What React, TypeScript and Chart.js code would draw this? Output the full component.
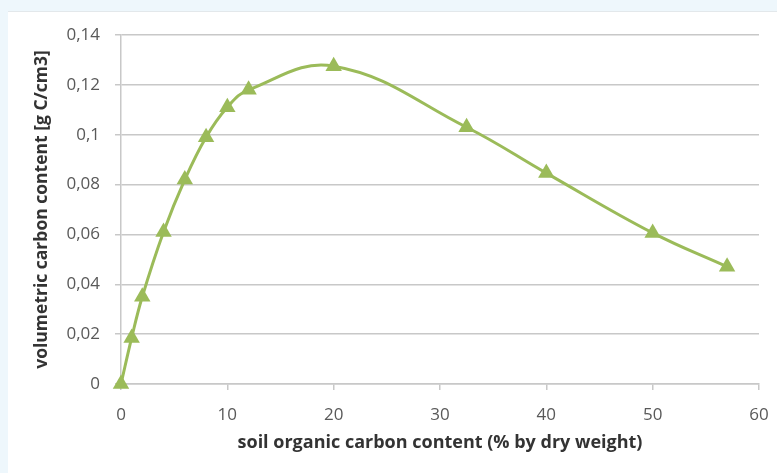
import React, { useEffect, useRef } from 'react';
import { Chart, registerables } from 'chart.js';

Chart.register(...registerables);

const xValues = [0, 1, 2, 4, 6, 8, 10, 12, 20, 32.5, 40, 50, 57];
const yValues = [0, 0.0185, 0.035, 0.061, 0.082, 0.099, 0.111, 0.118, 0.1275, 0.103, 0.0846, 0.0606, 0.047];
const xTickLabels = ['0', '10', '20', '30', '40', '50', '60'];
const yTickLabels = ['0', '0,02', '0,04', '0,06', '0,08', '0,1', '0,12', '0,14'];
const xTitle = 'soil organic carbon content (% by dry weight)';
const yTitle = 'volumetric carbon content [g C/cm3]';

const FONT = "'Open Sans', sans-serif";

const bgPlugin = {
  id: 'bgPanel',
  beforeDraw(chart: any) {
    const { ctx, width, height } = chart;
    ctx.save();
    ctx.fillStyle = '#eef7fc';
    ctx.fillRect(0, 0, width, height);
    ctx.fillStyle = '#e3e8eb';
    ctx.fillRect(8, 11, width - 8, 1);
    ctx.fillStyle = '#ffffff';
    ctx.fillRect(8, 12, width - 8, height - 12);
    ctx.restore();
  },
};

export default function App() {
  const ref = useRef<HTMLCanvasElement>(null);

  useEffect(() => {
    if (!ref.current) return;
    const chart = new Chart(ref.current, {
      type: 'line',
      data: {
        datasets: [
          {
            data: xValues.map((x, i) => ({ x, y: yValues[i] })),
            borderColor: '#9bbb59',
            backgroundColor: '#9bbb59',
            borderWidth: 3,
            pointStyle: 'triangle',
            pointRadius: 9.5,
            pointBorderWidth: 0,
            tension: 0.4,
            fill: false,
            clip: false,
          },
        ],
      },
      options: {
        animation: false,
        responsive: false,
        layout: { padding: { left: 0, right: 18, top: 35, bottom: 0 } },
        plugins: { legend: { display: false }, tooltip: { enabled: false } },
        scales: {
          x: {
            type: 'linear',
            min: 0,
            max: 60,
            afterFit(scale: any) {
              scale.height = 89;
              scale.paddingLeft = 0;
              scale.paddingRight = 0;
            },
            ticks: {
              stepSize: 10,
              padding: 15,
              color: '#595959',
              font: { family: FONT, size: 17 },
              callback: (_v: any, i: number) => xTickLabels[i],
            },
            grid: {
              drawOnChartArea: false,
              drawTicks: true,
              tickLength: 6,
              color: '#c8c8c8',
              lineWidth: 1.5,
            },
            border: { display: true, color: '#c8c8c8', width: 1.5 },
            title: {
              display: true,
              text: xTitle,
              color: '#333333',
              font: { family: FONT, size: 18, weight: 'bold' },
              padding: { top: 0, bottom: 19 },
            },
          },
          y: {
            min: 0,
            max: 0.14,
            afterFit(scale: any) {
              scale.width = 121;
              scale.paddingTop = 0;
              scale.paddingBottom = 0;
            },
            ticks: {
              stepSize: 0.02,
              padding: 15,
              color: '#595959',
              font: { family: FONT, size: 17 },
              callback: (_v: any, i: number) => yTickLabels[i],
            },
            grid: {
              drawTicks: true,
              tickLength: 6,
              color: '#c8c8c8',
              lineWidth: 1.5,
            },
            border: { display: true, color: '#c8c8c8', width: 1.5 },
            title: {
              display: true,
              text: yTitle,
              color: '#333333',
              font: { family: FONT, size: 17.5, weight: 'bold' },
              padding: { top: 32, bottom: 0 },
            },
          },
        },
      },
      plugins: [bgPlugin],
    });
    return () => chart.destroy();
  }, []);

  return (
    <div style={{ position: 'fixed', left: 0, top: 0, width: 777, height: 473 }}>
      <canvas ref={ref} width={777} height={473} style={{ display: 'block', width: 777, height: 473 }} />
    </div>
  );
}
